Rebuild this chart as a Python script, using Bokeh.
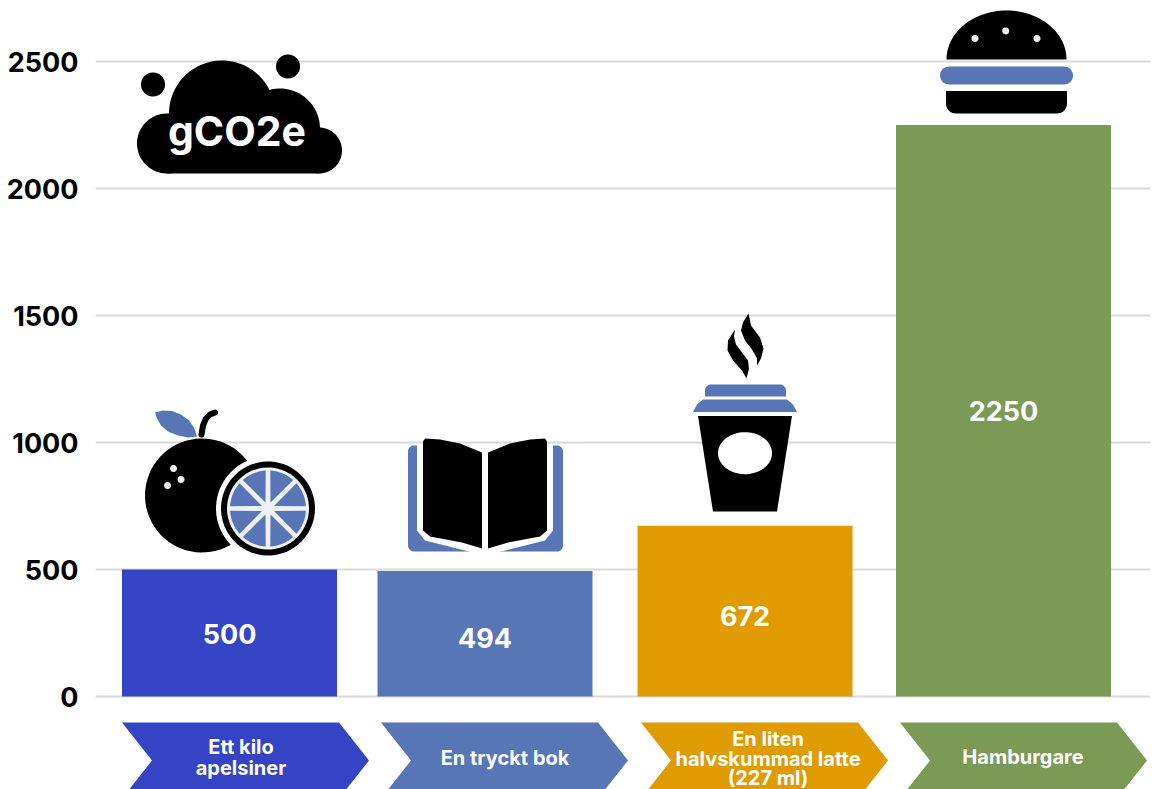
import numpy as np
from bokeh.embed import file_html
from bokeh.models import ColumnDataSource, FixedTicker, Range1d
from bokeh.plotting import figure
from bokeh.resources import INLINE
from bokeh.core.properties import value

# ---- data ----
categories = ["Ett kilo\napelsiner", "En tryckt bok", "En liten\nhalvskummad latte\n(227 ml)", "Hamburgare"]
values = [500, 494, 672, 2250]
y_ticks = [0, 500, 1000, 1500, 2000, 2500]
unit_label = "gCO2e"

# ---- styles / layout ----
bar_colors = ["#3444C4", "#5876B6", "#E09B00", "#7A9A56"]
BLUE, BLACK, WHITE = "#5876B6", "#000000", "#FFFFFF"
FONT = value("Inter")
bar_centers = [229.5, 485, 745, 1003.5]
bar_width = 215
label_px_y = [633, 637, 615, 410]
chevron_left = [122, 381, 641, 900]
chevron_text_x = [241, 505, 768, 1023]
chevron_line_y = [[746, 767], [757], [738, 758.5, 777.5], [756]]

PX_ZERO, PX_PER_UNIT = 696.0, 0.254


def Y(py):
    """Reference-image row to value on the y scale."""
    return (PX_ZERO - np.asarray(py, dtype=float)) / PX_PER_UNIT


p = figure(width=1158, height=789, output_backend="svg", toolbar_location=None,
           x_range=Range1d(95.5, 1150.5), y_range=Range1d(float(Y(789)), float(Y(0))),
           min_border_left=95, min_border_right=8, min_border_top=0, min_border_bottom=0,
           x_axis_location=None, outline_line_color=None, background_fill_color=WHITE)
p.xgrid.visible = False
p.ygrid.ticker = FixedTicker(ticks=y_ticks)
p.ygrid.grid_line_color = "#D9D9D9"
p.ygrid.grid_line_width = 2
p.yaxis.ticker = FixedTicker(ticks=y_ticks)
p.yaxis.axis_line_color = None
p.yaxis.major_tick_line_color = None
p.yaxis.minor_tick_line_color = None
p.yaxis.major_tick_out = 0
p.yaxis.major_tick_in = 0
p.yaxis.major_label_standoff = 17
p.yaxis.major_label_text_font = "Inter"
p.yaxis.major_label_text_font_style = "bold"
p.yaxis.major_label_text_font_size = "27px"
p.yaxis.major_label_text_color = BLACK


def shape(xs, ys, color=BLACK):
    p.patch(list(xs), list(Y(ys)), fill_color=color, line_color=None)


def ell(cx, cy, rx, ry=None, color=BLACK, a0=0.0, a1=2 * np.pi):
    ry = rx if ry is None else ry
    t = np.linspace(a0, a1, 72)
    shape(cx + rx * np.cos(t), cy + ry * np.sin(t), color)


def rrect(x0, y0, x1, y1, r, color=BLACK, top=True, bottom=True):
    xs, ys = [], []
    corners = ((x1 - r, y0 + r, -np.pi / 2, top, x1, y0), (x1 - r, y1 - r, 0, bottom, x1, y1),
               (x0 + r, y1 - r, np.pi / 2, bottom, x0, y1), (x0 + r, y0 + r, np.pi, top, x0, y0))
    for cx, cy, a, on, sx, sy in corners:
        if on:
            t = np.linspace(a, a + np.pi / 2, 10)
            xs += list(cx + r * np.cos(t)); ys += list(cy + r * np.sin(t))
        else:
            xs.append(sx); ys.append(sy)
    shape(xs, ys, color)


# ---- bars and value labels ----
src = ColumnDataSource(dict(x=bar_centers, top=values, color=bar_colors,
                            label=[str(v) for v in values], ly=list(Y(label_px_y))))
p.vbar(x="x", top="top", bottom=0, width=bar_width, fill_color="color", line_color=None, source=src)
p.text(x="x", y="ly", text="label", source=src, text_color=WHITE, text_font=FONT,
       text_font_style="bold", text_font_size="27px", text_align="center", text_baseline="middle")

# ---- chevron category labels ----
for left, color in zip(chevron_left, bar_colors):
    shape([left, left + 217, left + 247, left + 217, left, left + 30],
          [722, 722, 760, 798, 798, 760], color)
line_x, line_y, line_text = [], [], []
for cat, cx, rows in zip(categories, chevron_text_x, chevron_line_y):
    for part, row in zip(cat.split("\n"), rows):
        line_x.append(cx); line_y.append(float(Y(row))); line_text.append(part)
p.text(x=line_x, y=line_y, text=line_text, text_color=WHITE, text_font=FONT,
       text_font_style="bold", text_font_size="20px", text_align="center", text_baseline="middle")

# ---- cloud ----
ell(153, 84, 12); ell(288, 66, 12)
ell(222, 113, 53); ell(280, 128, 40); ell(167, 143, 30); ell(319, 150, 23)
rrect(167, 125, 319, 173, 0)
p.text(x=[237], y=[float(Y(130))], text=[unit_label], text_color=WHITE, text_font=FONT,
       text_font_style="bold", text_font_size="41px", text_align="center", text_baseline="middle")

# ---- orange ----
ell(202, 495, 57)
for cx, cy in ((173.5, 468), (181, 479), (167.5, 485)):
    ell(cx, cy, 3.5, color="#F0F0F0")
shape([155, 163, 172, 181, 189, 194, 197, 188, 178, 168, 161, 157],
      [412, 410, 410.5, 414, 420, 427, 436, 437, 435, 431, 425, 418], BLUE)
p.line([201.5, 203, 206, 210, 215], list(Y([434, 425, 418, 414, 412])), line_color=BLACK, line_width=6,
       line_cap="round")
ell(268, 508, 52, color=WHITE)
ell(268, 508, 47)
ell(268, 508, 41, color="#EEF0F6")
for k in range(8):
    a0 = k * np.pi / 4 + 0.06
    a1 = (k + 1) * np.pi / 4 - 0.06
    t = np.linspace(a0, a1, 12)
    shape(list(268 + 38 * np.cos(t)) + [268 + 6.5 * np.cos((a0 + a1) / 2)],
          list(508 + 38 * np.sin(t)) + [508 + 6.5 * np.sin((a0 + a1) / 2)], BLUE)

# ---- book ----
rrect(408, 445, 563, 551, 6, BLUE)
shape([417, 553, 553, 545, 497, 473, 425, 417], [444.5, 444.5, 530, 540, 552, 552, 540, 530], WHITE)
shape([425, 440, 460, 482, 482, 462, 430, 423, 423], [438, 439, 443, 452, 548, 542, 536, 530, 441])
shape([545, 530, 510, 488, 488, 508, 540, 547, 547], [438, 439, 443, 452, 548, 542, 536, 530, 441])

# ---- cup ----
shape([748.5, 751, 760, 763.5, 761, 757, 757, 752, 745, 741, 743],
      [313, 325, 337, 348, 358, 365, 358, 349, 340, 330, 322])
shape([735, 728, 727.5, 733, 742, 746.5, 749, 748, 742, 736, 734],
      [329, 340, 350, 360, 370, 378, 368, 360, 352, 344, 336])
rrect(705, 384, 786, 396, 6, BLUE, bottom=False)
shape([693, 697, 703, 787, 793, 797], [411.5, 404, 399, 399, 404, 411.5], BLUE)
shape([698, 792, 777, 713], [415.5, 415.5, 511, 511])
ell(745, 452.7, 27, 21, WHITE)

# ---- burger ----
ell(1006.5, 59, 60, 49, a0=np.pi, a1=2 * np.pi)
for cx, cy in ((975, 38), (1005.7, 30.4), (1037, 38)):
    ell(cx, cy, 3.5, color="#F0F0F0")
rrect(940, 66, 1073, 84, 9, BLUE)
rrect(946, 90.5, 1067, 113, 10, top=False)

open("out.html", "w").write(file_html(p, INLINE))
